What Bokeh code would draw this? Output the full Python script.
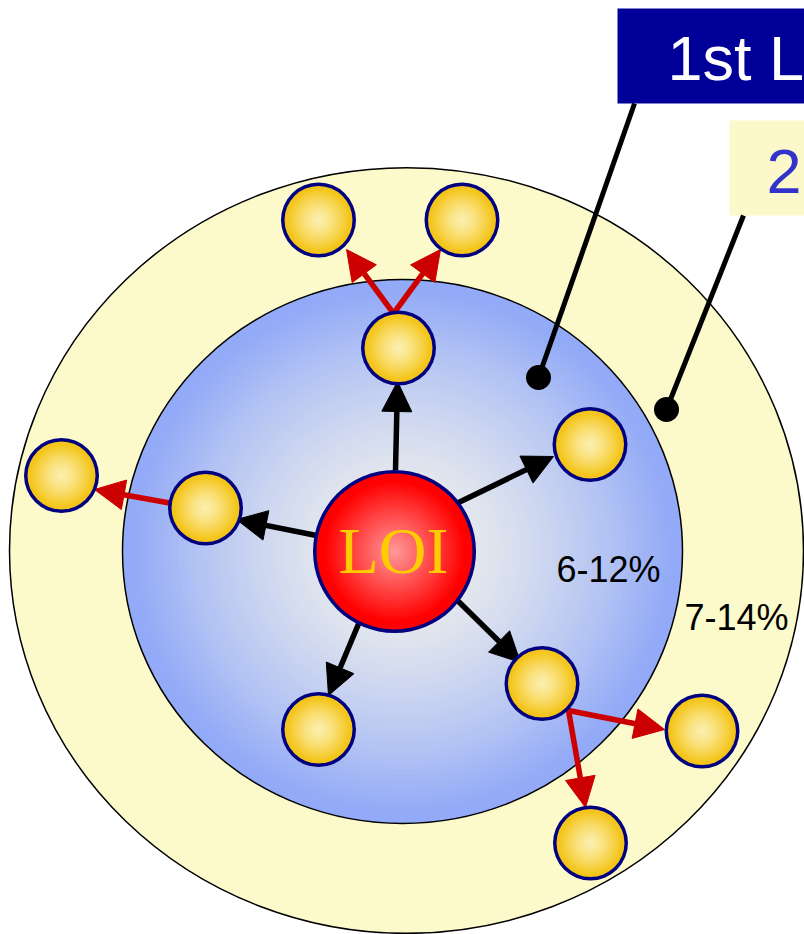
import numpy as np
from bokeh.plotting import figure
from bokeh.models import ColumnDataSource, Arrow, NormalHead, Range1d
from bokeh.core.properties import value
from bokeh.embed import file_html
from bokeh.resources import INLINE

# ---------------- data (pixel units) ----------------
outer_cx, outer_cy, outer_w, outer_h = 406, 550, 794, 766
inner_cx, inner_cy, inner_w, inner_h = 402, 551, 560, 544
loi_cx, loi_cy, loi_d = 394, 551, 163

node_x = [318, 461.5, 398, 589.5, 205, 61, 318, 541.5, 701.5, 590]
node_y = [219.5, 219.5, 347.5, 444, 507.5, 475, 729, 683, 730.5, 842.5]
node_d = 75

black_x0 = [395, 456, 316, 362, 457]
black_y0 = [470, 503, 535, 614, 600]
black_x1 = [397, 553, 236, 328, 520]
black_y1 = [381, 456, 519, 695, 662]

red_x0 = [393, 393, 172, 568, 568]
red_y0 = [313, 313, 503, 710, 710]
red_x1 = [346, 440, 94, 664, 585]
red_y1 = [249, 249, 489, 729, 807]

leader_x0 = [634, 743]
leader_y0 = [103, 215]
leader_x1 = [538, 666]
leader_y1 = [377, 409]

box_left = [617, 729]
box_right = [820, 820]
box_top = [8, 120]
box_bottom = [103, 215]
box_colors = ["#000099", "#FCF8CA"]
box_texts = ["1st L", "2"]
box_text_x = [667, 766]
box_text_y = [80, 193]          # baselines
box_text_colors = ["#FFFFFF", "#3333CC"]

pct_texts = ["6-12%", "7-14%"]
pct_x = [556, 684]
pct_y = [582, 630]              # baselines

center_label = "LOI"
center_label_y = 573            # baseline

BIG_FS, PCT_FS, LOI_FS = 63, 36, 66
SHIFT = 0.35                    # renderer baseline correction (em)


# ---------------- helpers for radial shading ----------------
def hex2rgb(h):
    h = h.lstrip("#")
    return np.array([int(h[i:i + 2], 16) for i in (0, 2, 4)], dtype=float)


def rgb2hex(c):
    c = np.clip(np.round(c), 0, 255).astype(int)
    return "#%02x%02x%02x" % tuple(c)


def rings(cxs, cys, ws, hs, c_edge, c_center, n, edge_start, power=1.0):
    e, c = hex2rgb(c_edge), hex2rgb(c_center)
    out = dict(x=[], y=[], w=[], h=[], c=[])
    for cx, cy, w, h in zip(cxs, cys, ws, hs):
        for k in range(n):
            s = 1.0 - k / n
            m = 1.0 - min(1.0, s / edge_start) ** power
            out["x"].append(cx)
            out["y"].append(cy)
            out["w"].append(w * s)
            out["h"].append(h * s)
            out["c"].append(rgb2hex(e * (1 - m) + c * m))
    return ColumnDataSource(out)


# ---------------- figure ----------------
p = figure(width=804, height=934, x_range=Range1d(0, 804), y_range=Range1d(934, 0),
           output_backend="svg", toolbar_location=None, x_axis_type=None, y_axis_type=None,
           min_border=0, outline_line_color=None)
p.grid.visible = False
p.background_fill_color = "white"
p.border_fill_color = "white"

# outer (2nd layer) ring
p.ellipse(x=[outer_cx], y=[outer_cy], width=[outer_w], height=[outer_h],
          fill_color="#FCF9CA", line_color="black", line_width=1.5)

# inner (1st layer) disc with radial shading
inner_src = rings([inner_cx], [inner_cy], [inner_w], [inner_h],
                  "#92AAF7", "#EFF0EC", 50, 0.97, power=1.6)
p.ellipse(x="x", y="y", width="w", height="h", fill_color="c", line_color=None,
          source=inner_src)
p.ellipse(x=[inner_cx], y=[inner_cy], width=[inner_w], height=[inner_h],
          fill_color=None, line_color="black", line_width=1.5)

# label boxes
p.quad(left=box_left, right=box_right, top=box_top, bottom=box_bottom,
       fill_color=box_colors, line_color=None)
p.text(x=box_text_x, y=[v - SHIFT * BIG_FS for v in box_text_y], text=box_texts,
       text_color=box_text_colors,
       text_font=value("Liberation Sans"), text_font_size=value(f"{BIG_FS}px"),
       text_baseline="alphabetic", text_align="left")

# leader lines
p.segment(x0=leader_x0, y0=leader_y0, x1=leader_x1, y1=leader_y1,
          line_color="black", line_width=5)
p.scatter(x=leader_x1, y=leader_y1, size=25, fill_color="black", line_color=None)

# arrows
black_src = ColumnDataSource(dict(x0=black_x0, y0=black_y0, x1=black_x1, y1=black_y1))
red_src = ColumnDataSource(dict(x0=red_x0, y0=red_y0, x1=red_x1, y1=red_y1))
p.add_layout(Arrow(source=black_src, x_start="x0", y_start="y0", x_end="x1", y_end="y1",
                   line_color="black", line_width=5.5,
                   end=NormalHead(size=30, fill_color="black", line_color="black", line_width=1)))
p.add_layout(Arrow(source=red_src, x_start="x0", y_start="y0", x_end="x1", y_end="y1",
                   line_color="#CC0000", line_width=5.5,
                   end=NormalHead(size=30, fill_color="#CC0000", line_color="#CC0000", line_width=1)))

# nodes (drawn above the arrows)
r = p.ellipse(x=node_x, y=node_y, width=node_d, height=node_d,
              fill_color="#000080", line_color=None)
r.level = "overlay"
node_src = rings(node_x, node_y, [node_d - 7] * len(node_x), [node_d - 7] * len(node_x),
                 "#F4C518", "#FCF0B2", 14, 0.97, power=1.3)
r = p.ellipse(x="x", y="y", width="w", height="h", fill_color="c", line_color=None,
              source=node_src)
r.level = "overlay"

# LOI centre
r = p.ellipse(x=[loi_cx], y=[loi_cy], width=[loi_d], height=[loi_d],
              fill_color="#000080", line_color=None)
r.level = "overlay"
loi_src = rings([loi_cx], [loi_cy], [loi_d - 7], [loi_d - 7], "#FF0000", "#FF9C9C", 30, 0.92)
r = p.ellipse(x="x", y="y", width="w", height="h", fill_color="c", line_color=None,
              source=loi_src)
r.level = "overlay"
r = p.text(x=[loi_cx - 1], y=[center_label_y - SHIFT * LOI_FS], text=[center_label],
           text_color="#FFCC00",
           text_font=value("Liberation Serif"), text_font_size=value(f"{LOI_FS}px"),
           text_baseline="alphabetic", text_align="center")
r.level = "overlay"

# percentage labels
p.text(x=pct_x, y=[v - SHIFT * PCT_FS for v in pct_y], text=pct_texts, text_color="black",
       text_font=value("Liberation Sans"), text_font_size=value(f"{PCT_FS}px"),
       text_baseline="alphabetic", text_align="left")

open("out.html", "w").write(file_html(p, INLINE))
